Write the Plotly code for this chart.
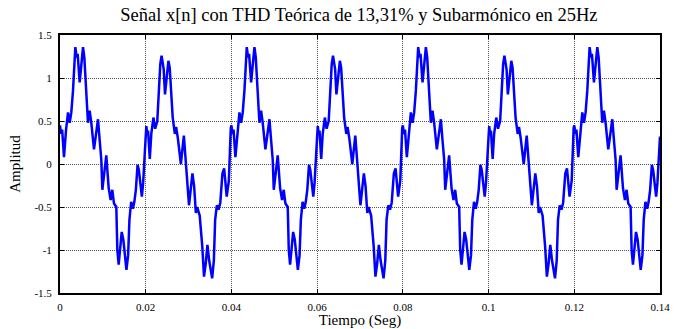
import plotly.graph_objects as go

# One 40 ms cycle (50 Hz fundamental + 25 Hz subharmonic),
# split in its two 20 ms halves. Times in ms, amplitudes as read.
cycle_a_ms = [0.0, 0.25, 0.5, 0.93, 1.4, 1.87, 2.26, 2.64, 3.03, 3.27, 3.58, 3.89,
              4.12, 4.59, 4.98, 5.37, 5.68, 5.91, 6.22, 6.53, 6.92, 7.3, 7.93,
              8.87, 9.3, 9.64, 9.88, 10.8, 11.36, 11.82, 12.2, 12.6, 13.14, 13.38,
              13.69, 14.0, 14.4, 14.78, 15.1, 15.5, 15.9, 16.2, 16.6, 17.0, 17.35,
              17.7, 18.1, 18.4, 19.1, 19.4, 20.0]
cycle_a_val = [0.45, 0.35, 0.40, 0.08, 0.39, 0.60, 0.48, 0.60, 0.85, 1.14, 1.36, 1.24,
               1.28, 0.95, 1.20, 1.36, 1.24, 1.01, 0.78, 0.48, 0.62, 0.48, 0.17,
               0.52, 0.25, 0.05, -0.30, 0.10, -0.28, -0.42, -0.30, -0.46, -0.50, -1.00,
               -1.17, -1.00, -0.79, -0.88, -1.06, -1.23, -1.06, -0.65, -0.44, -0.52, -0.44,
               -0.30, -0.01, -0.07, -0.38, -0.22, 0.32]

cycle_b_ms = [20.15, 20.35, 20.55, 20.95, 21.3, 21.8, 22.2, 22.7, 23.1, 23.4, 23.7,
              24.0, 24.2, 24.5, 24.9, 25.3, 25.6, 26.0, 26.3, 26.8, 27.1, 27.5,
              28.2, 28.9, 29.6, 30.1, 30.9, 31.3, 31.7, 32.0, 32.6, 33.2, 33.6,
              34.0, 34.4, 34.8, 35.5, 35.9, 36.2, 36.6, 37.0, 37.4, 37.9, 38.3,
              38.9, 39.4, 39.85]
cycle_b_val = [0.44, 0.35, 0.39, 0.06, 0.35, 0.54, 0.41, 0.50, 0.83, 1.16, 1.26,
               1.12, 1.10, 0.81, 1.05, 1.20, 1.12, 0.81, 0.54, 0.35, 0.43, 0.30,
               0.00, 0.33, -0.22, -0.48, -0.11, -0.26, -0.57, -0.50, -0.60, -0.96, -1.31,
               -1.16, -0.94, -1.12, -1.33, -1.12, -0.65, -0.48, -0.53, -0.45, -0.11, -0.05,
               -0.38, -0.19, 0.42]

cycle_len_ms = 40.0
n_cycles = 4
t_end_ms = 140.0

x_ticks = [0, 0.02, 0.04, 0.06, 0.08, 0.1, 0.12, 0.14]
x_tick_labels = ["0", "0.02", "0.04", "0.06", "0.08", "0.1", "0.12", "0.14"]
y_ticks = [-1.5, -1, -0.5, 0, 0.5, 1, 1.5]
y_tick_labels = ["-1.5", "-1", "-0.5", "0", "0.5", "1", "1.5"]

t_s, x_n = [], []
for k in range(n_cycles):
    for ms, v in list(zip(cycle_a_ms, cycle_a_val)) + list(zip(cycle_b_ms, cycle_b_val)):
        tm = ms + k * cycle_len_ms
        if tm <= t_end_ms + 1e-9:
            t_s.append(tm / 1000.0)
            x_n.append(v)

font = "Liberation Serif, Times New Roman, serif"

fig = go.Figure()
fig.add_trace(go.Scatter(x=t_s, y=x_n, mode="lines",
                         line=dict(color="#0000ff", width=2.5),
                         showlegend=False))

axis_common = dict(showline=True, linecolor="black", linewidth=2, mirror="allticks",
                   ticks="inside", ticklen=4, tickcolor="black", tickwidth=1,
                   showgrid=True, gridcolor="#555555", gridwidth=1, griddash="1px,1px",
                   zeroline=False, automargin=False,
                   tickfont=dict(family=font, size=11, color="black"))

fig.update_layout(
    width=681, height=329,
    margin=dict(l=60, r=21, t=35, b=36),
    paper_bgcolor="white", plot_bgcolor="white",
    title=dict(text="Señal x[n] con THD Teórica de 13,31% y Subarmónico en 25Hz",
               x=0.527, xanchor="center", y=0.955, yanchor="middle",
               font=dict(family=font, size=18.5, color="black")),
    xaxis=dict(range=[0, 0.14], tickvals=x_ticks, ticktext=x_tick_labels,
               ticklabelstandoff=3,
               title=dict(text="Tiempo (Seg)", font=dict(family=font, size=15, color="black"),
                          standoff=2),
               **axis_common),
    yaxis=dict(range=[-1.5, 1.5], tickvals=y_ticks, ticktext=y_tick_labels,
               ticklabelstandoff=4,
               title=dict(text="Amplitud", font=dict(family=font, size=15, color="black"),
                          standoff=10),
               **axis_common),
)

fig.write_html("out.html")
